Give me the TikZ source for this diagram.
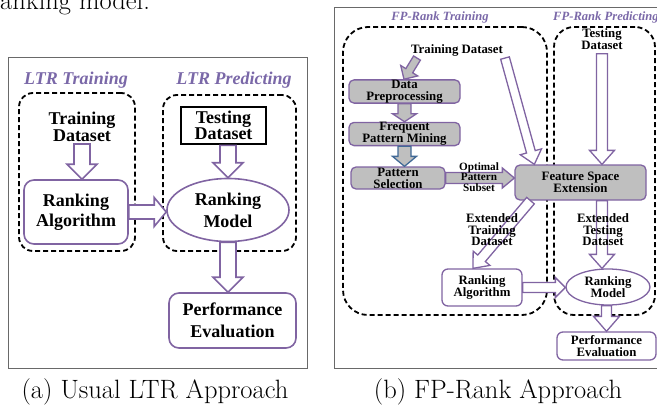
\documentclass[tikz,border=0pt]{standalone}
\usepackage{fontspec}
\usepackage{tikz}
\usetikzlibrary{positioning,calc,shapes.geometric}
\newfontfamily\tnr{Liberation Serif}
\definecolor{purp}{RGB}{128,100,162}
\definecolor{ttl}{RGB}{122,104,168}
\definecolor{boxgray}{RGB}{191,191,191}
\definecolor{bluish}{RGB}{65,105,150}
\definecolor{framegray}{RGB}{105,105,105}

\tikzset{
  shaftw/.store in=\shaftw, headw/.store in=\headw, headl/.store in=\headl,
  shaftw=5pt, headw=12pt, headl=13pt
}

\begin{document}
\begin{tikzpicture}[
    x=1pt, y=-1pt,
    lbl/.style={align=center, inner sep=0pt, font=\tnr\bfseries\fontsize{18}{#1}\selectfont},
    lbl/.default=17,
    lblb/.style={align=center, inner sep=0pt, font=\tnr\bfseries\fontsize{12.8}{#1}\selectfont},
    lblb/.default=12,
    title/.style={inner sep=0pt, text=ttl, font=\tnr\bfseries\itshape\fontsize{#1}{#1}\selectfont},
    caption/.style={inner sep=0pt, font=\fontsize{26.5}{30}\selectfont},
    block/.style={draw=purp, line width=1.6pt, rounded corners=10pt, fill=white},
    blockb/.style={draw=purp, line width=1.3pt, rounded corners=6pt, fill=white},
    greyblock/.style={draw=purp, line width=1.3pt, rounded corners=5pt, fill=boxgray},
    group/.style={draw, dash pattern=on 5pt off 3pt, line width=1.8pt},
    hollow/.style={draw=purp, fill=white, line width=1.3pt, line join=miter,
      to path={let \p1=(\tikztostart), \p2=(\tikztotarget),
        \n1={atan2(\y2-\y1,\x2-\x1)}, \n2={veclen(\x2-\x1,\y2-\y1)} in
        ($(\p1)+(\n1+90:\shaftw)$)
        -- ($(\p1)+(\n1:{\n2-\headl})+(\n1+90:\shaftw)$)
        -- ($(\p1)+(\n1:{\n2-\headl})+(\n1+90:\headw)$)
        -- (\p2)
        -- ($(\p1)+(\n1:{\n2-\headl})+(\n1-90:\headw)$)
        -- ($(\p1)+(\n1:{\n2-\headl})+(\n1-90:\shaftw)$)
        -- ($(\p1)+(\n1-90:\shaftw)$) -- cycle}},
    greyarrow/.style={hollow, fill=boxgray}
]
\useasboundingbox (0,0) rectangle (657,407);

% text cut off above the figure
\node[anchor=base west, inner sep=0pt, font=\fontsize{26.5}{30}\selectfont] (prev) at (0,9) {anking model.};

%% (a) usual approach
\draw[framegray, line width=1pt] (8,57) rectangle (307,368);
\node[title=18] (ttrainA) at (76,80) {LTR Training};
\node[title=18] (tpredA) at (234,80) {LTR Predicting};
\node[group, rounded corners=14pt, minimum width=116pt, minimum height=158pt] (trainA) at (77,172) {};
\node[group, rounded corners=14pt, minimum width=133pt, minimum height=156pt] (predA) at (229.5,173) {};

% Nodes
\node[lbl] (tdsA) at (82,127) {Training\\Dataset};
\node[block, lbl=20, minimum width=104pt, minimum height=64pt] (algA) at (76,212) {Ranking\\Algorithm};
\node[ellipse, draw=purp, line width=1.6pt, fill=white, lbl=22, minimum width=122pt, minimum height=63pt] (modA) at (228,210) {Ranking\\Model};
\node[draw, line width=2.6pt, fill=white, lbl=16, minimum width=85pt, minimum height=37pt] (tsA) at (223.5,125.5) {Testing\\Dataset};
\node[block, lbl=22, minimum width=127pt, minimum height=55pt] (perfA) at (232.5,320.5) {Performance\\Evaluation};

% Arrows
\draw[hollow, line width=1.6pt, shaftw=8pt, headw=15pt, headl=15pt] ([yshift=-2pt]tdsA.south) to (tdsA.south |- algA.north);
\draw[hollow, line width=1.6pt, shaftw=8pt, headw=15pt, headl=15pt] (modA.north |- tsA.south) to (modA.north);
\draw[hollow, line width=1.6pt, shaftw=8pt, headw=15pt, headl=15pt] (modA.south) to (modA.south |- perfA.north);
\draw[hollow, line width=1.6pt, shaftw=7pt, headw=14.5pt, headl=12pt] (algA.east) to (algA.east -| modA.west);

\node[caption] (capA) at (155,392) {(a) Usual LTR Approach};

%% (b) FP-Rank approach
\draw[framegray, line width=1pt] (334,7) rectangle (680,368);
\node[title=12.6] (ttrainB) at (440,17) {FP-Rank Training};
\node[title=12.6, anchor=west] (tpredB) at (553,17) {FP-Rank Predicting};
\node[group, rounded corners=25pt, minimum width=204pt, minimum height=288pt] (trainB) at (445,171) {};
\node[group, rounded corners=20pt, minimum width=101pt, minimum height=288pt] (predB) at (604.5,171) {};

% Nodes
\node[lblb] (tdsB) at (457,50) {Training Dataset};
\node[lblb] (tstB) at (602,39) {Testing\\Dataset};
\node[greyblock, lblb, minimum width=111pt, minimum height=23pt] (prep) at (404.5,91.5) {Data\\Preprocessing};
\node[greyblock, lblb, minimum width=111pt, minimum height=23pt, below=18pt of prep] (fpm) {Frequent\\Pattern Mining};
\node[greyblock, lblb, minimum width=94pt, minimum height=22pt] (psel) at (398,178) {Pattern\\Selection};
\node[greyblock, lblb, minimum width=131pt, minimum height=35pt] (fse) at (580.5,182.5) {Feature Space\\Extension};
\node[blockb, lblb, minimum width=80pt, minimum height=37pt] (algB) at (482,287.5) {Ranking\\Algorithm};
\node[ellipse, draw=purp, line width=1.3pt, fill=white, lblb=11.5, minimum width=84pt, minimum height=36pt] (modB) at (608,287) {Ranking\\Model};
\node[blockb, lblb, minimum width=99pt, minimum height=28pt] (perfB) at (606.5,346) {Performance\\Evaluation};

% Arrows
\draw[greyarrow, shaftw=4pt, headw=10pt, headl=10pt] ([xshift=-40pt, yshift=-2pt]tdsB.south) to ([xshift=-0.5pt]prep.north);
\draw[hollow, shaftw=4.5pt, headw=11pt, headl=13pt] ([xshift=48pt, yshift=-2pt]tdsB.south) to ([xshift=20pt]fse.north west);
\draw[hollow, shaftw=5.5pt, headw=12.5pt, headl=14pt] ([yshift=-4pt]tstB.south) to (tstB.south |- fse.north);
\draw[greyarrow, shaftw=6.5pt, headw=12pt, headl=8pt] (prep.south) to (fpm.north);
\draw[greyarrow, draw=bluish, shaftw=6.5pt, headw=12pt, headl=10pt] (fpm.south) to (fpm.south |- psel.north);
\draw[greyarrow, shaftw=5.5pt, headw=10pt, headl=12pt] (psel.east) to (psel.east -| fse.west);
\draw[hollow, shaftw=5pt, headw=11pt, headl=13pt] ([xshift=-50pt]fse.south) to ([xshift=-9pt]algB.north);
\draw[hollow, shaftw=5.5pt, headw=12.5pt, headl=14pt] (tstB.south |- fse.south) to (tstB.south |- modB.north);
\draw[hollow, shaftw=5pt, headw=10pt, headl=10pt] (algB.east) to (algB.east -| modB.west);
\draw[hollow, shaftw=5pt, headw=13pt, headl=15pt] (perfB.north |- modB.south) to (perfB.north);

% Arrow labels
\node[lblb=11.5] (etr) at (492,230) {Extended\\Training\\Dataset};
\node[lblb=11.5] (ets) at (603,230) {Extended\\Testing\\Dataset};
\node[align=center, inner sep=0pt, font=\tnr\bfseries\fontsize{11.2}{10.5}\selectfont] (ops) at (479,177) {Optimal\\Pattern\\Subset};

\node[caption] (capB) at (498,392) {(b) FP-Rank Approach};

\end{tikzpicture}
\end{document}
